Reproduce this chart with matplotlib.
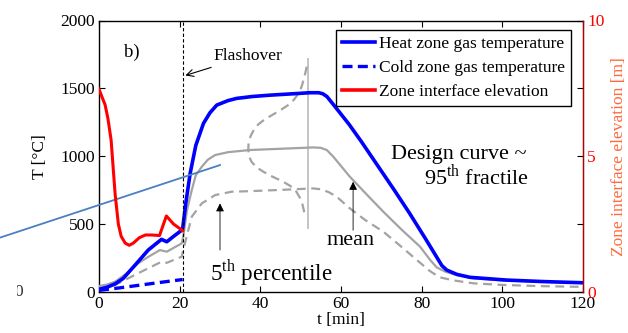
import matplotlib
matplotlib.use("Agg")
import matplotlib.pyplot as plt
from matplotlib.lines import Line2D
from matplotlib.transforms import Bbox

plt.rcParams['font.family'] = ['Liberation Serif', 'DejaVu Serif']
plt.rcParams['mathtext.fontset'] = 'custom'
plt.rcParams['mathtext.rm'] = 'Liberation Serif'

# ---------------- data ----------------
heat_t = [0, 2, 4, 6, 9, 12.2, 15.5, 16.8, 18.5, 20.5, 20.75, 21.5, 22.6, 24, 25.9, 27.5, 29.2, 32,
          34.1, 38, 42.4, 48, 52.3, 54.5, 55.5, 56.5, 58, 62, 65, 69, 73, 77, 81, 85, 86.2, 88.7, 92, 101, 110, 120]
heat_T = [20, 35, 60, 100, 200, 309, 388, 370, 410, 455, 470, 650, 874, 1080, 1242, 1320, 1377, 1410,
          1426, 1440, 1450, 1460, 1468, 1468, 1460, 1440, 1385, 1235, 1110, 935, 760, 580, 390, 195, 162, 130, 108, 88, 77, 68]

cold_t = [0, 5, 10, 15, 20.75]
cold_T = [12, 30, 50, 70, 92]

zone_t = [0, 0.7, 1.5, 2.2, 3, 3.5, 4, 4.8, 5.5, 6.5, 7.5, 8.5, 10, 11.5, 13, 15, 16.7, 18.5, 20.75]
zone_z = [7.47, 7.2, 6.9, 6.4, 5.6, 4.6, 3.6, 2.5, 2.05, 1.8, 1.72, 1.8, 2.0, 2.1, 2.1, 2.08, 2.8, 2.5, 2.26]

mean_t = [0, 2, 4, 7, 9.7, 12, 15.1, 16.8, 18.5, 20.5, 20.9, 21.8, 23, 24, 25.5, 27, 28.8, 32, 37.4, 45,
          53.1, 55, 56.5, 58, 62.2, 66, 70.5, 75, 79.6, 82, 83.7, 86, 88.7, 92.8, 100, 110, 117.6, 120]
mean_T = [44, 55, 76, 140, 211, 255, 309, 297, 325, 358, 407, 600, 751, 860, 923, 975, 1009, 1030, 1046, 1055,
          1065, 1062, 1045, 1000, 849, 730, 591, 460, 334, 240, 182, 148, 125, 101, 85, 75, 68, 67]

p5_t = [0, 4, 9.7, 15.5, 16.8, 20.5, 21.3, 23, 25.5, 28.8, 32.9, 36.6, 45, 53, 55, 57, 59, 62.2, 66, 70.5,
        74.5, 78.8, 82, 84.5, 88, 92.8, 100, 110, 117.6, 120]
p5_T = [27, 52, 138, 223, 215, 260, 358, 555, 653, 714, 739, 742, 752, 763, 757, 735, 700, 616, 530, 444,
        345, 236, 155, 108, 85, 64, 52, 43, 39, 38]

pdf_t = [51.5, 51.2, 50.8, 50.2, 49.4, 48.3, 46.8, 45, 43, 41, 39.5, 38.4, 37.6, 37.1, 37, 37.2, 37.8,
         39, 40.8, 43, 45.5, 47.5, 48.9, 49.8, 50.4, 50.8, 51]
pdf_T = [1660, 1620, 1570, 1510, 1460, 1415, 1375, 1340, 1305, 1270, 1235, 1195, 1150, 1100, 1050, 1000, 960,
         920, 885, 850, 815, 780, 740, 695, 650, 600, 555]

vline_t = [51.9, 51.9]
vline_T = [470, 1715]

stray_t = [-24.5, 30]
stray_T = [401, 935]

flashover_t = 20.75

xticks = [0, 20, 40, 60, 80, 100, 120]
yticks = [0, 500, 1000, 1500, 2000]
rticks = [0, 5, 10]
rminor = [2.5, 7.5]

# ---------------- figure ----------------
fig = plt.figure(figsize=(6.28, 3.33), dpi=100)
ax = fig.add_axes([99/628, 1-292/333, (583-99)/628, (292-20.5)/333])
ax2 = ax.twinx()

gray = '#a3a3a3'
ax.plot(mean_t, mean_T, color=gray, lw=1.6, zorder=3)
ax.plot(p5_t, p5_T, color=gray, lw=1.6, ls=(0, (4, 2.5)), zorder=3)
ax.plot(pdf_t, pdf_T, color=gray, lw=1.6, ls=(0, (4, 2.5)), zorder=3)
ax.plot(vline_t, vline_T, color='#c4c4c4', lw=1.4, zorder=2)
ax.plot(heat_t, heat_T, color='#0000ff', lw=2.6, zorder=4)
ax.plot(cold_t, cold_T, color='#0000ff', lw=2.4, ls=(0, (3, 1.6)), zorder=4)
ax.axvline(flashover_t, color='black', lw=0.8, ls=(0, (3, 2)), zorder=5)

ax2.plot(zone_t, zone_z, color='#ff0000', lw=2.2, zorder=4)

stray = Line2D(stray_t, stray_T, color='#4a80c0', lw=1.3, clip_on=False, zorder=6)
ax.add_line(stray)

ax.set_xlim(0, 120)
ax.set_ylim(0, 2000)
ax2.set_ylim(0, 10)
ax.set_xticks(xticks)
ax.set_yticks(yticks)
ax2.set_yticks(rticks)
ax2.set_yticks(rminor, minor=True)

fs = 12.5
ax.tick_params(axis='both', direction='in', length=4, width=0.8, labelsize=fs, top=True, pad=3)
ax.tick_params(axis='y', right=False)
ax2.tick_params(axis='y', which='both', direction='in', length=4, width=0.8, colors='black',
                labelcolor='#ff0000', labelsize=fs, pad=3)
for s in ['left', 'top', 'bottom']:
    ax.spines[s].set_linewidth(1.0)
ax2.spines['right'].set_color('#b00000')
ax2.spines['right'].set_linewidth(1.0)
ax2.spines['left'].set_visible(False)
ax2.spines['top'].set_visible(False)
ax2.spines['bottom'].set_visible(False)

ax.set_xlabel('t [min]', fontsize=fs, labelpad=0)
ax.set_ylabel('T [°C]', fontsize=fs, labelpad=9)
ax2.set_ylabel('Zone interface elevation [m]', fontsize=fs, color='#ff6a3d', labelpad=5)

# legend
handles = [Line2D([], [], color='#0000ff', lw=2.6),
           Line2D([], [], color='#0000ff', lw=2.4, ls=(0, (3, 1.6))),
           Line2D([], [], color='#ff0000', lw=2.6)]
labels = ['Heat zone gas temperature', 'Cold zone gas temperature', 'Zone interface elevation']
leg = ax2.legend(handles, labels, loc='upper right', bbox_to_anchor=(571/628, 1-29.5/333),
                 bbox_transform=fig.transFigure, fontsize=fs, frameon=True, fancybox=False,
                 edgecolor='black', framealpha=1, handlelength=1.9, handletextpad=0.2,
                 labelspacing=0.45, borderpad=0.35, borderaxespad=0)
leg.get_frame().set_linewidth(1.0)

# annotations
afs = 16
ax.text(8.2, 1768, 'b)', fontsize=fs + 1, ha='center', va='center')
ax.annotate('Flashover', xy=(21.4, 1595), xytext=(28.5, 1740), fontsize=fs, ha='left', va='center',
            arrowprops=dict(arrowstyle='->', color='black', lw=0.8, shrinkA=2, shrinkB=0))
ax.text(72.5, 1015, 'Design curve ~', fontsize=afs, ha='left', va='center')
ax.text(80.5, 850, '95$^{\\rm th}$ fractile', fontsize=afs, ha='left', va='center')
ax.annotate('', xy=(63.0, 812), xytext=(63.0, 455),
            arrowprops=dict(arrowstyle='-|>', color='black', lw=0.6, shrinkA=0, shrinkB=0,
                            mutation_scale=12))
ax.text(62.4, 380, 'mean', fontsize=afs, ha='center', va='center')
ax.annotate('', xy=(30.0, 653), xytext=(30.0, 309),
            arrowprops=dict(arrowstyle='-|>', color='black', lw=0.6, shrinkA=0, shrinkB=0,
                            mutation_scale=12))
ax.text(27.5, 140, '5$^{\\rm th}$ percentile', fontsize=16.6, ha='left', va='center')

# stray partial "0" at far left
t0 = fig.text(14/628, 1-292/333, '0', fontsize=fs, ha='left', va='center', color='#333333')
t0.set_clip_box(Bbox.from_extents(17, 0, 40, 333))
t0.set_clip_on(True)

fig.savefig('out.png', dpi=100)
